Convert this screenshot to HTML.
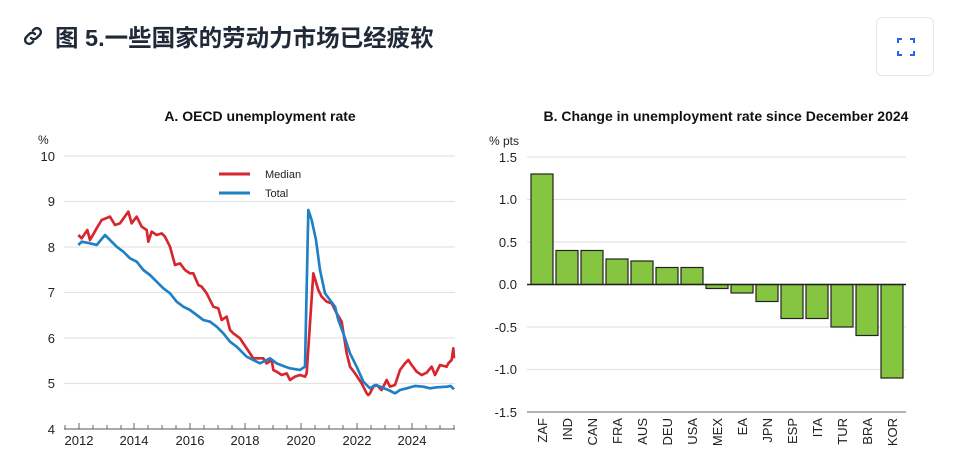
<!DOCTYPE html>
<html><head><meta charset="utf-8"><style>
body{margin:0;width:960px;height:469px;background:#fff;overflow:hidden;font-family:"Liberation Sans","Noto Sans CJK SC",sans-serif;}
.t{position:absolute;left:55px;top:19px;font-size:23.5px;font-weight:bold;color:#1f2937;letter-spacing:0;font-family:"Liberation Sans","Noto Sans CJK SC",sans-serif;}
.btn{position:absolute;left:876px;top:17px;width:58px;height:59px;border:1px solid #e5e7eb;border-radius:6px;box-sizing:border-box;}
</style></head><body>
<svg style="position:absolute;left:21px;top:24px" width="24" height="24" viewBox="0 0 24 24" fill="none" stroke="#1f2937" stroke-width="2.4" stroke-linecap="round"><path d="M10 14a4 4 0 0 0 5.7 0l3-3a4 4 0 0 0-5.7-5.7l-1.2 1.2"/><path d="M14 10a4 4 0 0 0-5.7 0l-3 3a4 4 0 0 0 5.7 5.7l1.2-1.2"/></svg>
<div class="t">图 5.一些国家的劳动力市场已经疲软</div>
<div class="btn"><svg width="58" height="59" viewBox="0 0 58 59" fill="none" stroke="#2563eb" stroke-width="2"><path d="M21 25v-4h4M33 21h4v4M37 33v4h-4M25 37h-4v-4"/></svg></div>
<svg style="position:absolute;left:0;top:0" width="960" height="469" font-family="Liberation Sans, sans-serif">
<text x="260" y="121" text-anchor="middle" font-size="14" font-weight="bold" fill="#111">A. OECD unemployment rate</text>
<text x="38" y="144" font-size="12" fill="#222">%</text>
<g stroke="#e3e3e3" stroke-width="1.2">
<line x1="64" y1="156" x2="455" y2="156"/><line x1="64" y1="201.5" x2="455" y2="201.5"/><line x1="64" y1="247" x2="455" y2="247"/><line x1="64" y1="292.5" x2="455" y2="292.5"/><line x1="64" y1="338" x2="455" y2="338"/><line x1="64" y1="383.5" x2="455" y2="383.5"/></g>
<line x1="64" y1="429" x2="455" y2="429" stroke="#555" stroke-width="1"/>
<g font-size="13" fill="#222" text-anchor="end">
<text x="55" y="161">10</text><text x="55" y="206">9</text><text x="55" y="252">8</text><text x="55" y="297">7</text><text x="55" y="343">6</text><text x="55" y="388">5</text><text x="55" y="434">4</text></g>
<g font-size="13" fill="#222" text-anchor="middle">
<text x="79" y="445">2012</text><text x="134" y="445">2014</text><text x="190" y="445">2016</text><text x="245" y="445">2018</text><text x="301" y="445">2020</text><text x="357" y="445">2022</text><text x="412" y="445">2024</text></g>
<g stroke="#666" stroke-width="1">
<path d="M65 425v4M79 423v6M93 425v4M107 425v4M121 425v4M134 423v6M148 425v4M162 425v4M176 425v4M190 423v6M204 425v4M218 425v4M232 425v4M245 423v6M259 425v4M273 425v4M287 425v4M301 423v6M315 425v4M329 425v4M343 425v4M357 423v6M371 425v4M385 425v4M399 425v4M412 423v6M426 425v4M440 425v4M454 425v4"/></g>
<line x1="219" y1="174" x2="250" y2="174" stroke="#d7262e" stroke-width="3"/>
<line x1="219" y1="193" x2="250" y2="193" stroke="#1f80c4" stroke-width="3"/>
<text x="265" y="178" font-size="11" fill="#222">Median</text>
<text x="265" y="197" font-size="11" fill="#222">Total</text>
<g transform="translate(0,100) scale(0.33333)" fill="none" stroke-width="8" stroke-linejoin="round">
<polyline stroke="#d7262e" points="235,405 245,415 262,390 270,420 290,385 305,360 330,350 345,375 360,370 385,335 395,370 410,350 425,380 440,390 445,425 455,395 470,405 485,400 495,410 510,440 525,495 540,490 555,510 570,520 580,520 595,555 605,560 620,580 640,620 655,625 665,660 680,650 690,690 700,700 720,715 740,745 760,775 790,775 800,790 815,780 820,810 830,815 845,825 860,820 870,840 885,830 900,825 915,830 920,820 940,520 955,570 965,590 980,605 995,610 1010,640 1025,665 1040,760 1050,800 1065,820 1085,850 1100,880 1105,885 1110,880 1120,860 1130,855 1145,870 1160,840 1170,860 1185,855 1200,810 1215,790 1225,780 1235,795 1250,815 1265,825 1280,818 1295,800 1305,825 1320,795 1340,800 1345,790 1355,780 1360,745 1362,775"/>
<polyline stroke="#1f80c4" points="235,435 245,425 270,430 290,435 315,405 330,420 350,440 370,455 390,475 410,485 430,510 450,525 470,545 490,565 510,580 530,605 550,620 570,630 590,645 610,660 630,665 650,680 670,700 690,725 710,740 740,770 760,780 780,790 810,775 830,790 855,800 870,805 900,810 915,800 925,330 935,360 948,420 960,510 975,580 990,600 1005,620 1015,660 1030,700 1050,760 1070,800 1090,845 1110,865 1125,855 1140,860 1165,870 1185,880 1200,870 1220,865 1245,858 1270,860 1290,865 1310,862 1340,860 1352,858 1362,868"/>
</g>
<text x="726" y="121" text-anchor="middle" font-size="14" font-weight="bold" fill="#111">B. Change in unemployment rate since December 2024</text>
<text x="489" y="145" font-size="12" fill="#222">% pts</text>
<g stroke="#e3e3e3" stroke-width="1.2">
<line x1="527" y1="157" x2="906" y2="157"/><line x1="527" y1="199.5" x2="906" y2="199.5"/><line x1="527" y1="242" x2="906" y2="242"/><line x1="527" y1="327" x2="906" y2="327"/><line x1="527" y1="369.5" x2="906" y2="369.5"/></g>
<line x1="527" y1="412" x2="906" y2="412" stroke="#888" stroke-width="1.2"/>
<g font-size="13" fill="#222" text-anchor="end">
<text x="517" y="162">1.5</text><text x="517" y="204">1.0</text><text x="517" y="247">0.5</text><text x="517" y="289">0.0</text><text x="517" y="332">-0.5</text><text x="517" y="374">-1.0</text><text x="517" y="417">-1.5</text></g>
<g fill="#86c540" stroke="#222" stroke-width="1.2">
<rect x="531" y="174" width="22" height="110.5"/>
<rect x="556" y="250.5" width="22" height="34"/>
<rect x="581" y="250.5" width="22" height="34"/>
<rect x="606" y="259" width="22" height="25.5"/>
<rect x="631" y="261" width="22" height="23.5"/>
<rect x="656" y="267.5" width="22" height="17"/>
<rect x="681" y="267.5" width="22" height="17"/>
<rect x="706" y="284.5" width="22" height="4"/>
<rect x="731" y="284.5" width="22" height="8.5"/>
<rect x="756" y="284.5" width="22" height="17"/>
<rect x="781" y="284.5" width="22" height="34"/>
<rect x="806" y="284.5" width="22" height="34"/>
<rect x="831" y="284.5" width="22" height="42.5"/>
<rect x="856" y="284.5" width="22" height="51"/>
<rect x="881" y="284.5" width="22" height="93.5"/>
</g>
<line x1="527" y1="284.5" x2="906" y2="284.5" stroke="#222" stroke-width="1.5"/>
<g font-size="13" fill="#222" text-anchor="end">
<text transform="translate(547,418) rotate(-90)">ZAF</text>
<text transform="translate(572,418) rotate(-90)">IND</text>
<text transform="translate(597,418) rotate(-90)">CAN</text>
<text transform="translate(622,418) rotate(-90)">FRA</text>
<text transform="translate(647,418) rotate(-90)">AUS</text>
<text transform="translate(672,418) rotate(-90)">DEU</text>
<text transform="translate(697,418) rotate(-90)">USA</text>
<text transform="translate(722,418) rotate(-90)">MEX</text>
<text transform="translate(747,418) rotate(-90)">EA</text>
<text transform="translate(772,418) rotate(-90)">JPN</text>
<text transform="translate(797,418) rotate(-90)">ESP</text>
<text transform="translate(822,418) rotate(-90)">ITA</text>
<text transform="translate(847,418) rotate(-90)">TUR</text>
<text transform="translate(872,418) rotate(-90)">BRA</text>
<text transform="translate(897,418) rotate(-90)">KOR</text>
</g>
</svg>
</body></html>
